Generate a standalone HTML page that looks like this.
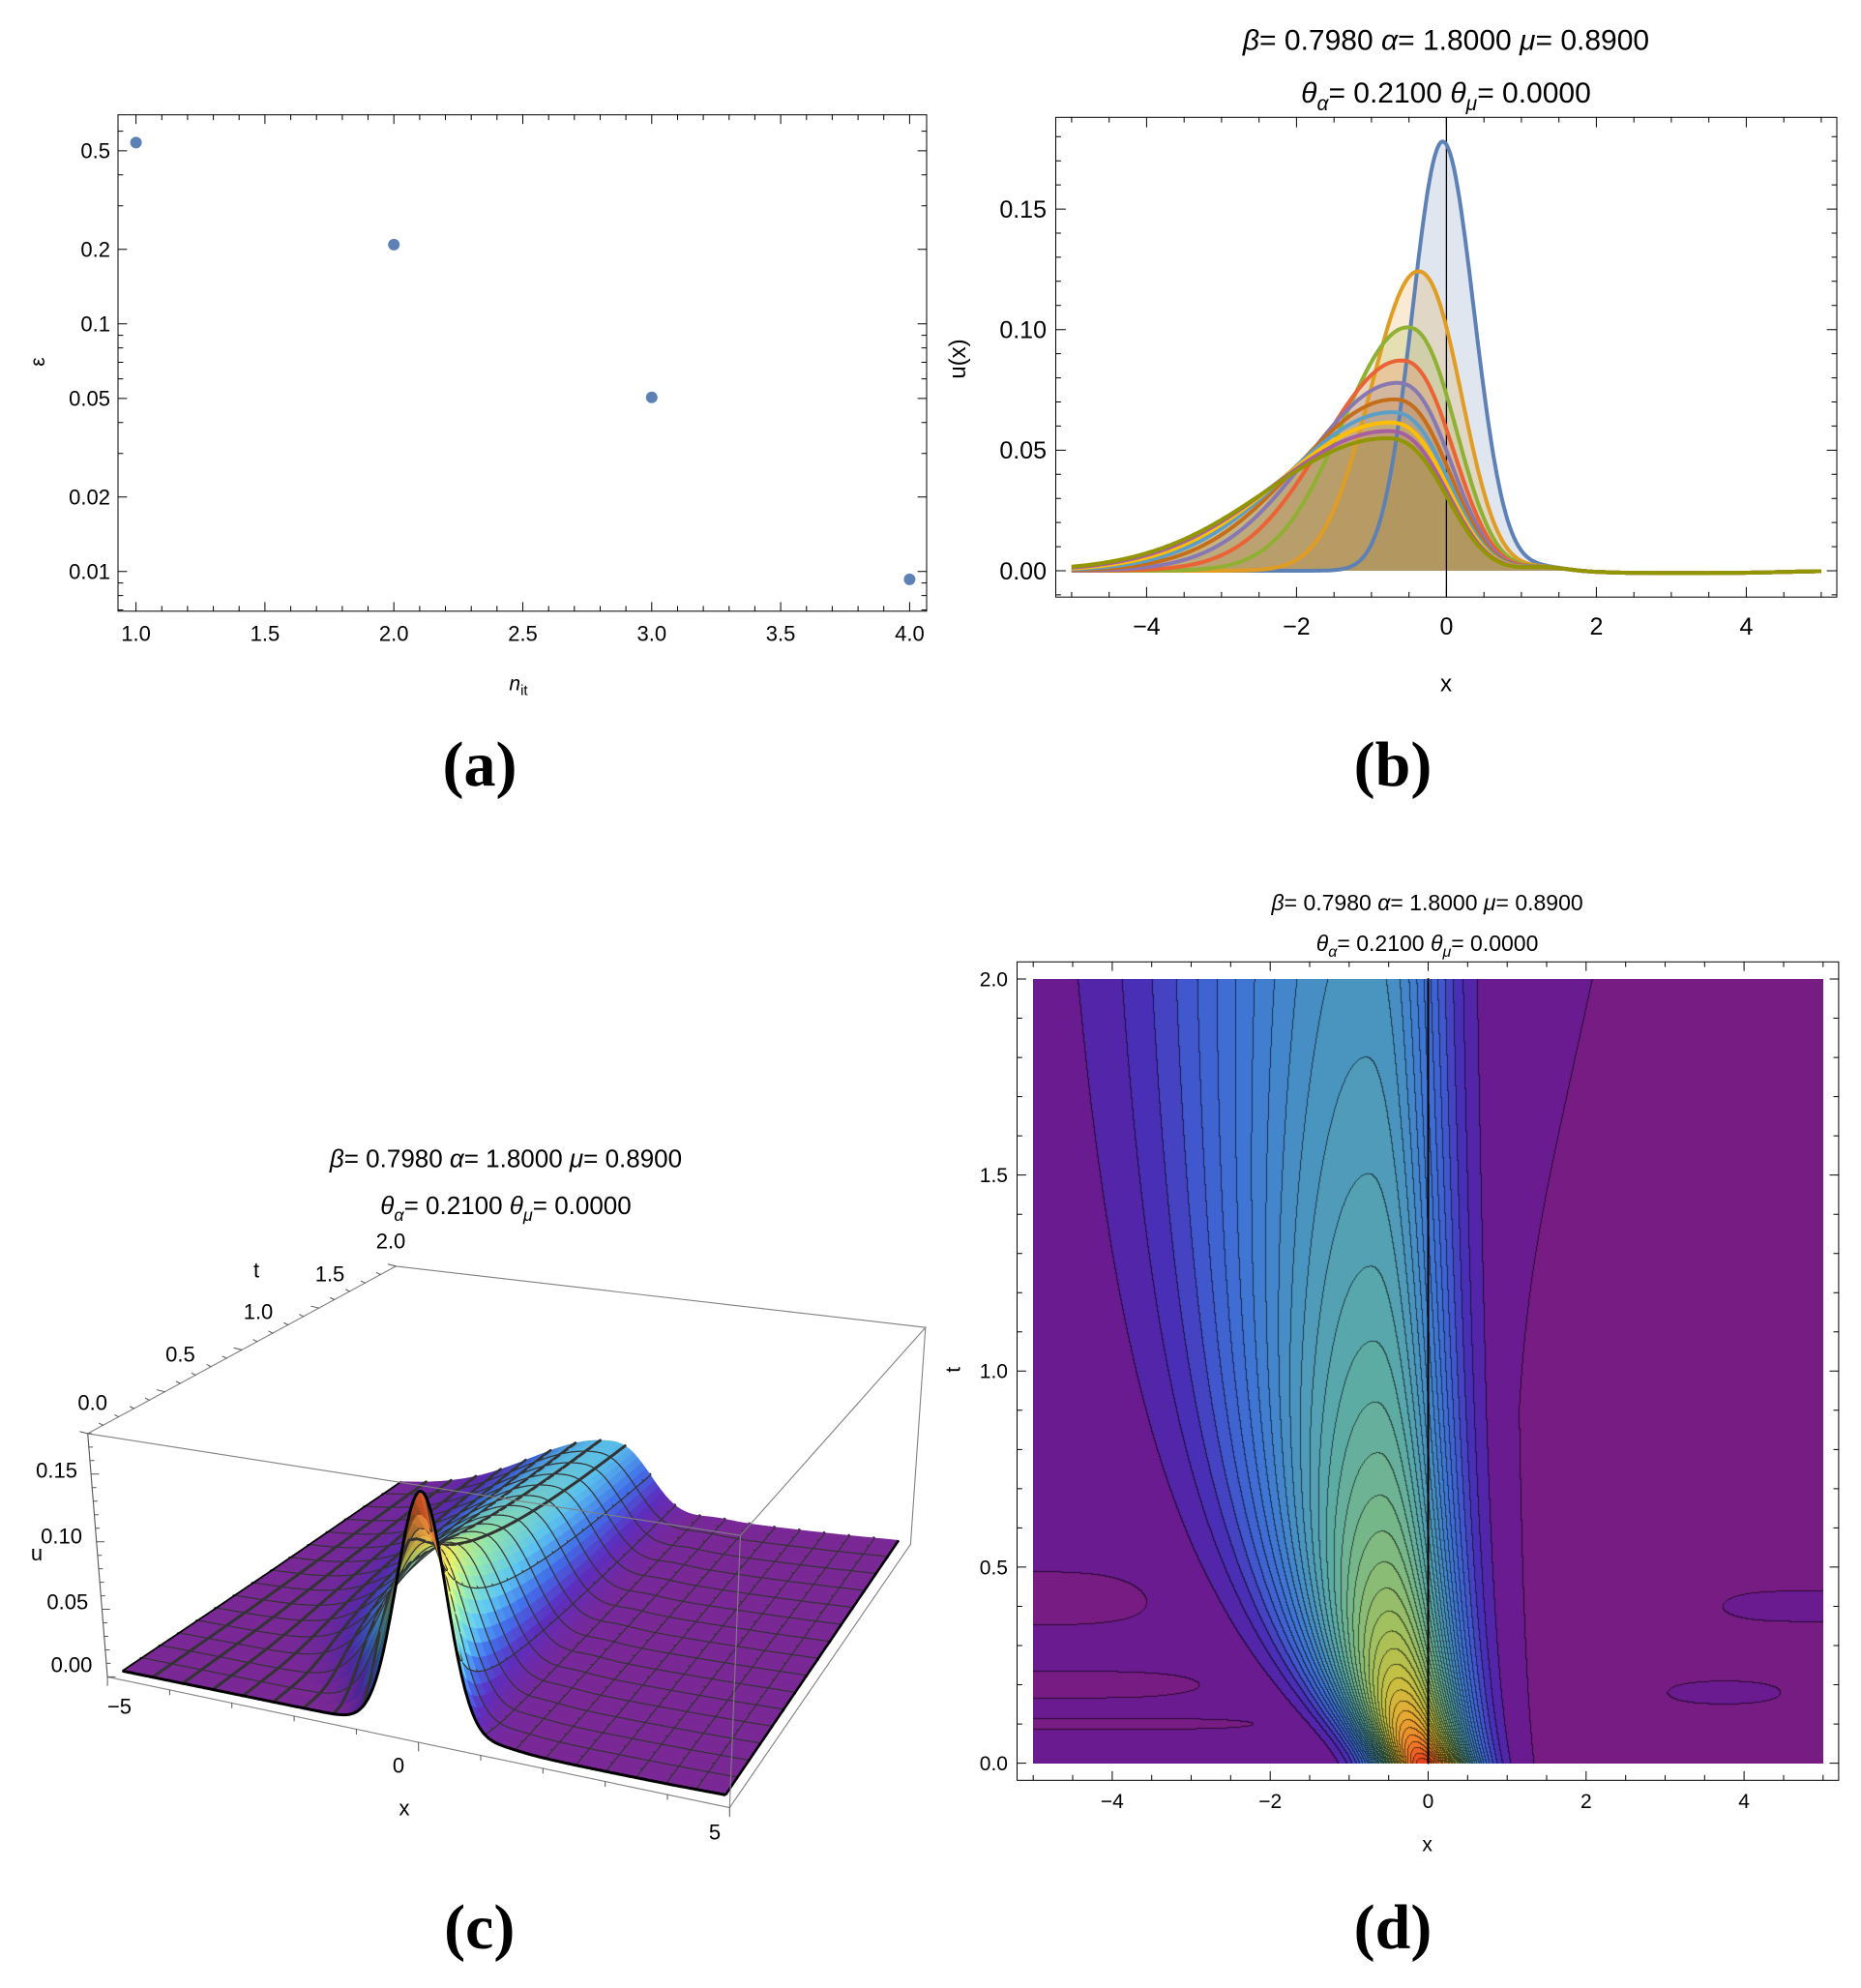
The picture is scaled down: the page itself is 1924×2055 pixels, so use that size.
<!DOCTYPE html>
<html><head><meta charset="utf-8"><style>body{margin:0;background:#fff}#w{position:relative;width:1924px;height:2055px;overflow:hidden}</style></head>
<body><div id="w">
<canvas id="cv" width="817" height="811" style="position:absolute;left:1068px;top:1012px"></canvas>
<svg id="s" width="1924" height="2055" style="position:absolute;left:0;top:0" font-family="Liberation Sans, DejaVu Sans, sans-serif"></svg>
</div>
<script>
var out=[];
function L(x1,y1,x2,y2,c,w){out.push('<line x1="'+x1.toFixed(1)+'" y1="'+y1.toFixed(1)+'" x2="'+x2.toFixed(1)+'" y2="'+y2.toFixed(1)+'" stroke="'+(c||'#000')+'" stroke-width="'+(w||1)+'" stroke-linecap="round"/>');}
function T(x,y,s,sz,anc,ex){out.push('<text x="'+x.toFixed(1)+'" y="'+(y+0.35*sz).toFixed(1)+'" font-size="'+sz+'" text-anchor="'+(anc||'middle')+'" '+(ex||'')+'>'+s+'</text>');}
function title(cx,y1,y2,sz){
 T(cx,y1,'<tspan font-style="italic">β</tspan>= 0.7980 <tspan font-style="italic">α</tspan>= 1.8000 <tspan font-style="italic">μ</tspan>= 0.8900',sz);
 var s2=Math.round(sz*0.7),d=Math.round(sz*0.25);
 T(cx,y2,'<tspan font-style="italic">θ</tspan><tspan font-style="italic" font-size="'+s2+'" dy="'+d+'">α</tspan><tspan dy="-'+d+'">= 0.2100 </tspan><tspan font-style="italic">θ</tspan><tspan font-style="italic" font-size="'+s2+'" dy="'+d+'">μ</tspan><tspan dy="-'+d+'">= 0.0000</tspan>',sz);
}
function big(x,y,s){out.push('<text x="'+x+'" y="'+y+'" font-size="66" font-weight="bold" text-anchor="middle" font-family="Liberation Serif, DejaVu Serif, serif">'+s+'</text>');}
function sig(z){return 1/(1+Math.exp(-z));}
function U(x,t){
 var A=0.178/Math.sqrt(1+4.75*t);
 var p=(1-A/0.178)/0.691;
 var m=-0.05-0.75*p, sL=0.57+1.75*p*p, sR=0.59+0.41*p, q=2+0.5*p;
 var d=x-m,u;
 if(d<0)u=A*Math.exp(-(d/sL)*(d/sL)); else u=A*Math.exp(-Math.pow(d/sR,q));
 var xb=t<0.9?1.0:1.0+(t-0.9)/1.1*1.2;
 u-=0.0012*sig((x-xb)*6);
 u-=0.0015*Math.exp(-Math.pow((t-0.42)/0.06,2))*sig((-3.7-x)*3);
 u-=0.0015*Math.exp(-Math.pow((t-0.2)/0.03,2))*sig((-3.2-x)*3);
 u-=0.0015*Math.exp(-Math.pow((t-0.1)/0.012,2))*sig((-2.5-x)*3);
 u+=0.0015*Math.exp(-Math.pow((t-0.4)/0.05,2))*sig((x-3.7)*4);
 u+=0.0015*Math.exp(-Math.pow((t-0.18)/0.04,2))*sig((x-3.0)*4)*sig((4.5-x)*4);
 return u;
}
function U0(x,t){
 var A=0.178/Math.sqrt(1+4.75*t);
 var p=(1-A/0.178)/0.691;
 var m=-0.05-0.75*p, sL=0.57+1.68*p*p, sR=0.59+0.41*p, q=2+0.5*p;
 var d=x-m;
 var u=d<0?A*Math.exp(-(d/sL)*(d/sL)):A*Math.exp(-Math.pow(d/sR,q));
 u+=0.0015*Math.exp(-Math.pow((x-1.3)/0.4,2));
 u-=0.001*sig((x-2)*4)*sig((4.5-x)*3);
 return u;
}
function hex(h){return [parseInt(h.substr(1,2),16),parseInt(h.substr(3,2),16),parseInt(h.substr(5,2),16)];}
function cmap(stops,v){
 if(v<=stops[0][0])return hex(stops[0][1]);
 for(var i=1;i<stops.length;i++){if(v<=stops[i][0]){var a=hex(stops[i-1][1]),b=hex(stops[i][1]),f=(v-stops[i-1][0])/(stops[i][0]-stops[i-1][0]);return [a[0]+(b[0]-a[0])*f,a[1]+(b[1]-a[1])*f,a[2]+(b[2]-a[2])*f];}}
 return hex(stops[stops.length-1][1]);
}
function rgb(c,f){f=f||1;return 'rgb('+Math.min(255,Math.round(c[0]*f))+','+Math.min(255,Math.round(c[1]*f))+','+Math.min(255,Math.round(c[2]*f))+')';}

/* ---------- Panel a ---------- */
(function(){
 var l=122,r=958,tp=118.7,b=631.8;
 out.push('<rect x="'+l+'" y="'+tp+'" width="'+(r-l)+'" height="'+(b-tp)+'" fill="none" stroke="#000" stroke-width="1"/>');
 function X(n){return 140.6+(n-1)*266.6;}
 function Y(e){return 155.9-(Math.log10(e)-Math.log10(0.5))*256;}
 for(var k=0;k<=30;k++){var n=1+k*0.1,x=X(n),mj=(k%5==0),len=mj?9:5;
  L(x,b,x,b-len);L(x,tp,x,tp+len);
  if(mj)T(x,654.8,n.toFixed(1),22);}
 var ys=[0.007,0.008,0.009,0.01,0.02,0.03,0.04,0.05,0.06,0.07,0.08,0.09,0.1,0.2,0.3,0.4,0.5,0.6];
 var lab={0.01:'0.01',0.02:'0.02',0.05:'0.05',0.1:'0.1',0.2:'0.2',0.5:'0.5'};
 ys.forEach(function(e){var y=Y(e),mj=!!lab[e],len=mj?9:5;L(l,y,l+len,y);L(r,y,r-len,y);if(mj)T(114,y,lab[e],22,'end');});
 [[1,0.54],[2,0.209],[3,0.0505],[4,0.0093]].forEach(function(p){out.push('<circle cx="'+X(p[0])+'" cy="'+Y(p[1])+'" r="6" fill="#5e81b5"/>');});
 T(536,706,'<tspan font-style="italic">n</tspan><tspan font-size="15" dy="5">it</tspan>',21,'middle');
 out.push('<text x="39" y="374" font-size="21" text-anchor="middle" transform="rotate(-90 39 374)" dy="7">ε</text>');
 big(496,812,'(a)');
})();

/* ---------- Panel b ---------- */
(function(){
 var l=1091.5,r=1899,tp=121.3,b=617.2;
 function X(x){return 1495.4+x*77.5;}
 function Y(u){return 590-u*2493;}
 title(1495,40.8,95.7,30);
 out.push('<defs><clipPath id="cb"><rect x="'+l+'" y="'+tp+'" width="'+(r-l)+'" height="'+(b-tp)+'"/></clipPath></defs>');
 var cols=['#5e81b5','#e19c24','#8fb032','#eb6235','#8778b3','#c56e1a','#5d9ec7','#ffbf00','#a5609d','#929600'];
 var paths=[];
 for(var k=0;k<10;k++){var t=k*2/9,d='';
  for(var i=0;i<=400;i++){var x=-5+i*0.025;d+=(i?'L':'M')+X(x).toFixed(1)+','+Y(U0(x,t)).toFixed(1);}
  paths.push(d);}
 out.push('<g clip-path="url(#cb)">');
 for(var k=0;k<10;k++)out.push('<path d="'+paths[k]+'L'+X(5)+','+Y(0)+'L'+X(-5)+','+Y(0)+'Z" fill="'+cols[k]+'" fill-opacity="0.2" stroke="none"/>');
 L(X(0),tp,X(0),b,'#000',1.3);
 for(var k=0;k<10;k++)out.push('<path d="'+paths[k]+'" fill="none" stroke="'+cols[k]+'" stroke-width="4" stroke-linejoin="round"/>');
 out.push('</g>');
 out.push('<rect x="'+l+'" y="'+tp+'" width="'+(r-l)+'" height="'+(b-tp)+'" fill="none" stroke="#000" stroke-width="1"/>');
 for(var k=-10;k<=10;k++){var x=X(k*0.5),mj=(k%4==0),len=mj?10:5;L(x,b,x,b-len);L(x,tp,x,tp+len);if(mj)T(x,647,(k<0?'−':'')+Math.abs(k/2),25);}
 for(var k=-1;k<=18;k++){var y=Y(k*0.01),mj=(k%5==0),len=mj?10:5;L(l,y,l+len,y);L(r,y,r-len,y);if(mj&&k>=0)T(1082,y,(k*0.01).toFixed(2),25,'end');}
 T(1495,706,'x',24);
 out.push('<text x="990" y="371" font-size="24" text-anchor="middle" transform="rotate(-90 990 371)" dy="8">u(x)</text>');
 big(1440,812,'(b)');
})();

/* ---------- Panel c ---------- */
(function(){
 title(523,1197.4,1246,26);
 var P00=[126.5,1727.3],P10=[750,1855.2],P02=[414.8,1533.6],P12=[929,1592.1];
 function P(x,t,u){var a=(x+5)/10,b=t/2;
  var bx=(1-a)*(1-b)*P00[0]+a*(1-b)*P10[0]+(1-a)*b*P02[0]+a*b*P12[0];
  var by=(1-a)*(1-b)*P00[1]+a*(1-b)*P10[1]+(1-a)*b*P02[1]+a*b*P12[1];
  var sc=1400-150*b;return [bx,by-u*sc];}
 var st=[[0,'#7a2896'],[0.1,'#5a2cb8'],[0.2,'#3f6ae0'],[0.31,'#58bce8'],[0.45,'#90e0a8'],[0.58,'#e6e860'],[0.75,'#e8a040'],[1,'#c03018']];
 var nx=120,nt=30,dx=10/nx,dt=2/nt,MX=6;
 var quads=[];
 for(var ti=0;ti<nt;ti++)for(var xi=0;xi<nx;xi++)quads.push([ti,xi]);
 quads.sort(function(a,b){if(a[0]!=b[0])return b[0]-a[0];var xa=-5+(a[1]+0.5)*dx,xb=-5+(b[1]+0.5)*dx;return Math.abs(xb+0.5)-Math.abs(xa+0.5);});
 function pt(p){return p[0].toFixed(1)+','+p[1].toFixed(1);}
 quads.forEach(function(q){
  var ti=q[0],xi=q[1],x0=-5+xi*dx,x1=x0+dx,t0=ti*dt,t1=t0+dt;
  var u00=Math.max(U0(x0,t0),-0.002),u10=Math.max(U0(x1,t0),-0.002),u01=Math.max(U0(x0,t1),-0.002),u11=Math.max(U0(x1,t1),-0.002);
  var a=P(x0,t0,u00),b=P(x1,t0,u10),c=P(x1,t1,u11),d=P(x0,t1,u01);
  var um=(u00+u10+u01+u11)/4,dudx=((u10+u11)-(u00+u01))/2/dx;
  var col=cmap(st,Math.max(0,um)/0.178);
  var f=1-0.6*Math.min(1,Math.max(0,dudx/0.22))+0.12*Math.min(1,Math.max(0,-dudx/0.22));
  var cs=rgb(col,f);
  out.push('<polygon points="'+pt(a)+' '+pt(b)+' '+pt(c)+' '+pt(d)+'" fill="'+cs+'" stroke="'+cs+'" stroke-width="0.6"/>');
  if(xi%MX==0&&xi>0)L(a[0],a[1],d[0],d[1],'#333',3);
  if(ti%2==0&&ti>0)L(a[0],a[1],b[0],b[1],'#333',3);
 });
 function edge(fn,n,w){var d='';for(var i=0;i<=n;i++){var p=fn(i/n);d+=(i?'L':'M')+pt(p);}out.push('<path d="'+d+'" fill="none" stroke="#000" stroke-width="'+w+'" stroke-linejoin="round"/>');}
 edge(function(s){var x=-5+10*s;return P(x,0,Math.max(U0(x,0),-0.002));},400,3);
 edge(function(s){var t=2*s;return P(5,t,U0(5,t));},30,2.6);
 edge(function(s){var t=2*s;return P(-5,t,Math.max(U0(-5,t),0));},30,1.8);
 var A=[90.7,1481.9],B=[409.3,1308.9],C=[956.8,1372.2],D=[765.4,1587.2],E=[754.3,1868.6],F=[111.1,1733.4],G=[941.4,1596.3];
 function LL(p,q){L(p[0],p[1],q[0],q[1],'#808080',1.1);}
 LL(A,B);LL(B,C);LL(C,G);LL(A,D);LL(D,E);LL(F,E);LL(G,E);LL(C,D);
 L(A[0],A[1],F[0],F[1],'#555',1.1);
 for(var k=0;k<=10;k++){var s=k/10,x=F[0]+(E[0]-F[0])*s,y=F[1]+(E[1]-F[1])*s;L(x,y,x,y+(k%5==0?9:5),'#555',1);}
 for(var k=0;k<=20;k++){var s=k/20,x=A[0]+(B[0]-A[0])*s,y=A[1]+(B[1]-A[1])*s;L(x,y,x-(k%5==0?8:4),y-2,'#555',1);}
 for(var k=0;k<=18;k++){var s=k/18,x=F[0]+(A[0]-F[0])*s,y=F[1]+(A[1]-F[1])*s;L(x,y,x+(k%5==0?8:4),y,'#555',1);}
 T(58.6,1520,'0.15',22);T(63.6,1588,'0.10',22);T(69.8,1656,'0.05',22);T(74,1721,'0.00',22);
 T(95.7,1450,'0.0',22);T(186.4,1400,'0.5',22);T(267,1356,'1.0',22);T(341,1317,'1.5',22);T(404,1283,'2.0',22);
 T(265,1313,'t',22);T(123.5,1764,'−5',22);T(412,1825,'0',22);T(739,1894,'5',22);T(418,1868.6,'x',22);T(38,1605.5,'u',22);
 big(495.7,2014,'(c)');
})();

/* ---------- Panel d ---------- */
(function(){
 var cv=document.getElementById('cv'),ctx=cv.getContext('2d'),W=817,H=811;
 var img=ctx.createImageData(W,H),bins=new Int16Array(W*H);
 var LV=0.0048;
 for(var j=0;j<H;j++){var t=2-(j+0.5)/H*2;for(var i=0;i<W;i++){var x=-5+(i+0.5)/W*10;var u=U(x,t);bins[j*W+i]=u<-0.0004?-1:Math.max(0,Math.floor(u/LV));}}
 var st=[[0,'#5c1e9c'],[0.05,'#4a2bb4'],[0.12,'#3f5fd2'],[0.2,'#3f78d4'],[0.3,'#4a95c0'],[0.4,'#5aaaa8'],[0.5,'#78b888'],[0.6,'#a0c060'],[0.7,'#c8c040'],[0.8,'#e8a830'],[0.9,'#f07828'],[1,'#e83a1c']];
 var cache={};
 function bc(b){if(cache[b])return cache[b];var c;if(b==-1)c=hex('#761c82');else if(b==0)c=hex('#6a1b8f');else c=cmap(st,(b*LV)/0.175);cache[b]=c;return c;}
 for(var j=0;j<H;j++)for(var i=0;i<W;i++){var k=j*W+i,b=bins[k],c=bc(b);
  var edge=(i<W-1&&bins[k+1]!=b)||(j<H-1&&bins[k+W]!=b);
  var f=edge?0.38:1,o=k*4;
  img.data[o]=c[0]*f;img.data[o+1]=c[1]*f;img.data[o+2]=c[2]*f;img.data[o+3]=255;}
 ctx.putImageData(img,0,0);
 var l=1051.5,r=1900.9,tp=994.3,b=1840.3;
 function X(x){return 1068.2+(x+5)*81.66;}
 function Y(t){return 1822.6-t*405.3;}
 title(1475.6,933,975,23);
 out.push('<rect x="'+l+'" y="'+tp+'" width="'+(r-l)+'" height="'+(b-tp)+'" fill="none" stroke="#000" stroke-width="1"/>');
 L(X(0),Y(2),X(0),Y(0),'#000',2);
 for(var k=-10;k<=10;k++){var x=X(k*0.5),mj=(k%4==0),len=mj?9:5;L(x,b,x,b-len);L(x,tp,x,tp+len);if(mj)T(x,1861.7,(k<0?'−':'')+Math.abs(k/2),21);}
 for(var k=0;k<=20;k++){var y=Y(k*0.1),mj=(k%5==0),len=mj?9:5;L(l,y,l+len,y);L(r,y,r-len,y);if(mj)T(1042,y,(k*0.1).toFixed(1),21,'end');}
 T(1475.6,1906,'x',21);
 out.push('<text x="985.5" y="1415.8" font-size="21" text-anchor="middle" transform="rotate(-90 985.5 1415.8)" dy="7">t</text>');
 big(1440,2014,'(d)');
})();
document.getElementById('s').innerHTML=out.join('');
</script>
</body></html>
